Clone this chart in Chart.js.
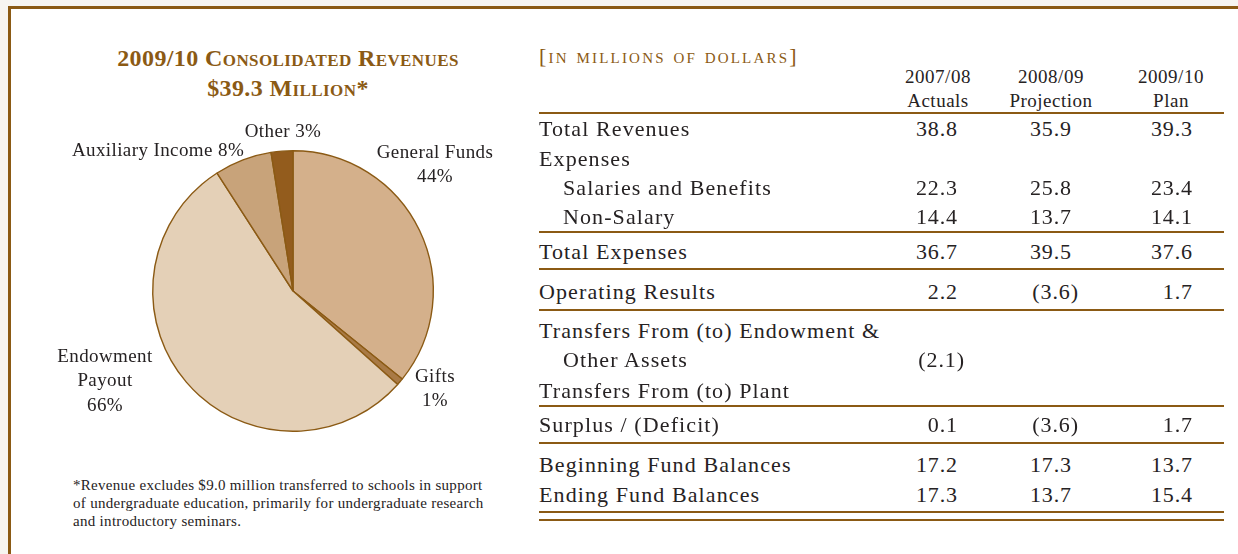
<!DOCTYPE html>
<html>
<head>
<meta charset="utf-8">
<script src="https://cdn.jsdelivr.net/npm/chart.js@4/dist/chart.umd.min.js"></script>
<style>
  body { margin: 0; width: 1238px; height: 554px; overflow: hidden; background: #f7f5f1;
         font-family: "Liberation Serif", serif; color: #262223; position: relative; }
  #panel { position: absolute; left: 8px; top: 6px; width: 1230px; height: 548px; background: #fff;
           border-top: 3px solid #8b5a14; border-left: 3px solid #8b5a14; box-sizing: border-box; }
  .abs { position: absolute; white-space: nowrap; }
  .title { left: 38px; width: 500px; text-align: center; font-weight: bold; font-variant: small-caps;
           color: #8b5a14; font-size: 24px; line-height: 30px; letter-spacing: 0.4px; }
  .plabel { width: 200px; text-align: center; font-size: 19px; line-height: 24.5px; letter-spacing: 0.4px; }
  .note { left: 73px; font-size: 15px; line-height: 18px; letter-spacing: 0.3px; }
  .units { left: 539px; top: 41px; font-size: 22px; line-height: 30px; color: #8b5a14;
           font-variant: small-caps; letter-spacing: 2.2px; }
  .colhead { width: 140px; text-align: center; font-size: 19px; line-height: 24px; letter-spacing: 0.5px; }
  .row { left: 539px; font-size: 22px; line-height: 30px; letter-spacing: 1.1px; }
  .num { width: 100px; text-align: right; font-size: 22px; line-height: 30px; letter-spacing: 0.9px; }
  .rule { left: 539px; width: 685px; height: 2px; background: #8b5a14; }
  #pieWrap { position: absolute; left: 142px; top: 140px; width: 302px; height: 302px; }
</style>
</head>
<body>
<div id="panel"></div>
<div class="abs title" style="top:43px">2009/10 Consolidated Revenues</div>
<div class="abs title" style="top:73px">$39.3 Million*</div>
<div id="pieWrap"><canvas id="pie" width="302" height="302"></canvas></div>
<div id="labels"></div>
<div class="abs note" style="top:476px">*Revenue excludes $9.0 million transferred to schools in support<br>of undergraduate education, primarily for undergraduate research<br>and introductory seminars.</div>
<div class="abs units">[in millions of dollars]</div>
<div id="table"></div>
<script>
const sliceNames = ['General Funds', 'Gifts', 'Endowment Payout', 'Auxiliary Income', 'Other'];
const sliceValues = [35.8, 0.8, 54.3, 6.6, 2.5];
const printedShares = ['44%', '1%', '66%', '8%', '3%'];
const sliceColors = ['#d4b08b', '#a97a45', '#e4d0b7', '#c8a37a', '#935c1d'];

// table
const yearHeads = ['2007/08', '2008/09', '2009/10'];
const yearKinds = ['Actuals', 'Projection', 'Plan'];
const rowNames = ['Total Revenues', 'Expenses', 'Salaries and Benefits', 'Non-Salary', 'Total Expenses',
  'Operating Results', 'Transfers From (to) Endowment &', 'Other Assets', 'Transfers From (to) Plant',
  'Surplus / (Deficit)', 'Beginning Fund Balances', 'Ending Fund Balances'];
const actuals0708 = ['38.8', '', '22.3', '14.4', '36.7', '2.2', '', '(2.1)', '', '0.1', '17.2', '17.3'];
const projection0809 = ['35.9', '', '25.8', '13.7', '39.5', '(3.6)', '', '', '', '(3.6)', '17.3', '13.7'];
const plan0910 = ['39.3', '', '23.4', '14.1', '37.6', '1.7', '', '', '', '1.7', '13.7', '15.4'];

// layout
const rowY = [129, 159, 188, 217, 252, 292, 331, 360, 391, 425, 465, 495];
const indented = [2, 3, 7];
const ruleY = [113, 232, 269, 310, 406, 443, 512, 520];
const colCenter = [938, 1051, 1171];
const colRight = [958, 1072, 1193];

const brown = '#8b5a14';

new Chart(document.getElementById('pie'), {
  type: 'pie',
  data: {
    labels: sliceNames,
    datasets: [{ data: sliceValues, backgroundColor: sliceColors, borderColor: brown, borderWidth: 1.4 }]
  },
  options: {
    responsive: false,
    animation: false,
    events: [],
    layout: { padding: 10 },
    plugins: { legend: { display: false }, tooltip: { enabled: false } }
  }
});

// pie labels (name lines + printed share)
const labelSpots = [
  { x: 435, y: 152, lines: ['General Funds', printedShares[0]] },
  { x: 435, y: 376, lines: ['Gifts', printedShares[1]] },
  { x: 105, y: 356, lines: ['Endowment', 'Payout', printedShares[2]] },
  { x: 158, y: 150, lines: [sliceNames[3] + ' ' + printedShares[3]] },
  { x: 283, y: 131, lines: [sliceNames[4] + ' ' + printedShares[4]] }
];
const labelsDiv = document.getElementById('labels');
labelSpots.forEach(s => {
  const d = document.createElement('div');
  d.className = 'abs plabel';
  d.style.left = (s.x - 100) + 'px';
  d.style.top = (s.y - 12.25) + 'px';
  d.innerHTML = s.lines.join('<br>');
  labelsDiv.appendChild(d);
});

const table = document.getElementById('table');
function addDiv(cls, text, left, top) {
  const d = document.createElement('div');
  d.className = 'abs ' + cls;
  if (left !== null) d.style.left = left + 'px';
  d.style.top = top + 'px';
  d.textContent = text;
  table.appendChild(d);
  return d;
}

yearHeads.forEach((h, i) => {
  addDiv('colhead', h, colCenter[i] - 70, 77 - 12);
  addDiv('colhead', yearKinds[i], colCenter[i] - 70, 101 - 12);
});

ruleY.forEach(y => addDiv('rule', '', null, y - 1));

const columns = [actuals0708, projection0809, plan0910];
rowNames.forEach((name, r) => {
  const d = addDiv('row', name, null, rowY[r] - 15);
  if (indented.includes(r)) d.style.left = '563px';
  columns.forEach((col, c) => {
    const v = col[r];
    if (!v) return;
    const hang = v.startsWith('(') ? 7 : 0;
    addDiv('num', v, colRight[c] + hang - 100, rowY[r] - 15);
  });
});
</script>
</body>
</html>
